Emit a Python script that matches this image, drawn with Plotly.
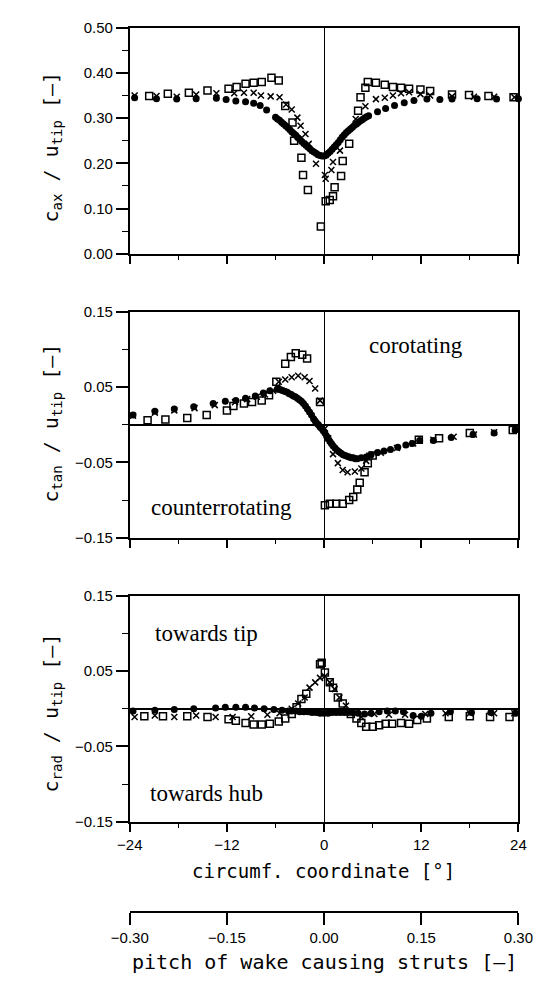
import plotly.graph_objects as go

# ---------------- data ----------------
# Panel 1: c_ax / u_tip
ax_circ_x = [-23.4, -20.7, -18.2, -15.8, -13.3, -12.1, -10.9, -9.7, -8.7, -7.9, -7.1,
             -6.0, -5.75, -5.5, -5.25, -5.0, -4.75, -4.5, -4.25, -4.0, -3.75, -3.5, -3.25,
             -3.0, -2.75, -2.5, -2.25, -2.0, -1.75, -1.5, -1.25, -1.0, -0.75, -0.5, -0.25,
             0.0, 0.25, 0.5, 0.75, 1.0, 1.25, 1.5, 1.75, 2.0, 2.25, 2.5, 2.75, 3.0, 3.25,
             3.5, 3.75, 4.0, 4.25, 4.5, 4.75, 5.0, 5.25, 5.5,
             6.6, 7.6, 8.7, 9.9, 11.1, 12.7, 14.3, 15.8, 18.9, 21.3, 24.0]
ax_circ_y = [0.345, 0.343, 0.342, 0.343, 0.344, 0.341, 0.338, 0.336, 0.333, 0.328, 0.318,
             0.302, 0.298, 0.295, 0.291, 0.287, 0.283, 0.279, 0.275, 0.270, 0.266, 0.262, 0.257,
             0.253, 0.248, 0.244, 0.240, 0.236, 0.232, 0.228, 0.225, 0.222, 0.219, 0.217, 0.216,
             0.216, 0.218, 0.222, 0.226, 0.231, 0.236, 0.241, 0.246, 0.252, 0.258, 0.263, 0.268, 0.272, 0.276,
             0.280, 0.284, 0.287, 0.291, 0.294, 0.297, 0.300, 0.303, 0.305,
             0.314, 0.321, 0.328, 0.334, 0.339, 0.342, 0.341, 0.342, 0.343, 0.342, 0.343]
ax_sq_x = [-21.6, -19.3, -16.7, -14.4, -11.8, -10.8, -9.7, -8.7, -7.7, -6.5, -5.6, -4.8,
           -3.9, -3.7, -2.8, -2.6, -2.0, -0.4, 0.2, 0.7, 1.1, 1.3, 2.1, 2.3, 3.1, 4.2, 4.5,
           5.1, 5.4, 6.4, 7.5, 8.5, 9.5, 10.5, 11.9, 13.1, 15.8, 17.9, 20.3, 23.4]
ax_sq_y = [0.349, 0.354, 0.356, 0.361, 0.365, 0.369, 0.376, 0.378, 0.380, 0.389, 0.383, 0.327,
           0.290, 0.250, 0.212, 0.174, 0.141, 0.060, 0.116, 0.119, 0.127, 0.147, 0.172, 0.205, 0.243, 0.316, 0.346,
           0.367, 0.380, 0.378, 0.374, 0.369, 0.367, 0.365, 0.363, 0.360, 0.352, 0.351, 0.349, 0.346]
ax_x_x = [-23.4, -20.7, -18.2, -15.8, -13.3, -11.1, -9.9, -8.7, -7.8, -6.6, -5.5, -4.7,
          -4.0, -3.3, -2.9, -2.3, -1.9, -1.0, 0.1, 0.2, 0.9, 1.1, 1.96, 3.9, 5.1, 6.4,
          7.5, 8.5, 9.5, 10.5, 11.9, 13.1, 15.8, 18.5, 21.0, 23.5]
ax_x_y = [0.350, 0.349, 0.347, 0.352, 0.355, 0.355, 0.356, 0.356, 0.350, 0.348, 0.346, 0.330,
          0.319, 0.301, 0.283, 0.265, 0.243, 0.199, 0.174, 0.166, 0.185, 0.203, 0.228, 0.298, 0.326, 0.342,
          0.345, 0.350, 0.355, 0.357, 0.353, 0.350, 0.348, 0.347, 0.347, 0.346]

# Panel 2: c_tan / u_tip
tan_circ_x = [-23.6, -20.9, -18.5, -16.1, -13.7, -12.2, -10.9, -9.7, -8.5, -7.5, -6.7,
              -5.8, -5.55, -5.3, -5.05, -4.8, -4.55, -4.3, -4.05, -3.8, -3.55, -3.3, -3.05,
              -2.8, -2.55, -2.3, -2.05, -1.8, -1.55, -1.3, -1.1, -0.9, -0.7, -0.5, -0.3,
              -0.1, 0.1, 0.3, 0.5, 0.7, 0.9, 1.1, 1.35, 1.6, 1.85, 2.1, 2.35, 2.6, 2.85,
              3.1, 3.35, 3.6, 3.85, 4.1, 4.6,
              5.2, 5.8, 6.6, 7.4, 8.2, 9.1, 10.1, 10.9, 11.8, 13.5, 15.7, 18.4, 21.0, 23.6]
tan_circ_y = [0.013, 0.018, 0.021, 0.024, 0.028, 0.031, 0.032, 0.035, 0.038, 0.042, 0.045,
              0.047, 0.047, 0.046, 0.045, 0.044, 0.043, 0.041, 0.040, 0.038, 0.037, 0.035, 0.033,
              0.031, 0.028, 0.025, 0.021, 0.017, 0.013, 0.008, 0.005, 0.002, 0.000, -0.003, -0.005,
              -0.008, -0.011, -0.015, -0.018, -0.022, -0.025, -0.028, -0.031, -0.034, -0.036, -0.038, -0.040, -0.041, -0.042,
              -0.043, -0.044, -0.044, -0.045, -0.045, -0.044,
              -0.043, -0.040, -0.037, -0.035, -0.033, -0.030, -0.027, -0.025, -0.021, -0.021, -0.017, -0.013, -0.011, -0.007]
tan_sq_x = [-21.8, -19.6, -16.9, -14.5, -12.0, -11.2, -9.9, -8.9, -7.7, -6.8, -5.9, -4.8,
            -4.1, -3.5, -2.7, -2.1, -0.5, 0.1, 0.7, 1.5, 2.3, 3.1, 3.6, 4.1, 4.4, 5.0,
            5.4, 6.0, 11.7, 14.2, 18.0, 23.3]
tan_sq_y = [0.006, 0.007, 0.009, 0.013, 0.019, 0.025, 0.028, 0.030, 0.032, 0.039, 0.057, 0.081,
            0.090, 0.095, 0.093, 0.088, 0.030, -0.107, -0.105, -0.105, -0.105, -0.100, -0.096, -0.086, -0.077, -0.063,
            -0.051, -0.041, -0.020, -0.018, -0.011, -0.007]
tan_x_x = [-23.6, -20.9, -18.5, -16.0, -13.5, -11.0, -9.5, -8.3, -7.3, -6.3, -5.6, -4.8,
           -4.0, -3.2, -2.4, -1.8, -1.1, -0.5, 0.1, 0.5, 1.1, 1.7, 2.3, 2.9, 3.8, 4.6,
           5.2, 5.6, 7.0, 9.0, 11.0, 13.5, 16.0, 18.5, 21.0, 23.6]
tan_x_y = [0.012, 0.016, 0.019, 0.022, 0.026, 0.030, 0.034, 0.037, 0.040, 0.045, 0.057, 0.060,
           0.063, 0.065, 0.063, 0.058, 0.048, 0.032, -0.005, -0.018, -0.039, -0.051, -0.060, -0.063, -0.062, -0.058,
           -0.048, -0.041, -0.037, -0.031, -0.025, -0.020, -0.016, -0.013, -0.010, -0.006]

# Panel 3: c_rad / u_tip
rad_circ_x = [-23.6, -20.9, -18.5, -16.1, -13.4, -12.2, -10.9, -9.7, -8.6, -7.4, -6.2, -5.2,
              -4.4, -4.0, -3.5, -3.0, -2.5, -2.0, -1.5, -1.0, -0.5, 0.0, 0.5, 1.0, 1.5, 2.0,
              2.5, 3.0, 3.5, 4.2, 5.0, 5.8, 6.8, 7.8, 8.8, 9.8, 11.0, 12.0, 13.2, 15.6,
              18.2, 20.6, 23.6]
rad_circ_y = [-0.003, -0.002, -0.001, 0.000, 0.001, 0.002, 0.002, 0.002, 0.001, 0.000, -0.001, -0.002,
              -0.003, -0.003, -0.003, -0.004, -0.004, -0.004, -0.005, -0.005, -0.006, -0.006, -0.006, -0.005, -0.005, -0.005,
              -0.005, -0.005, -0.005, -0.006, -0.007, -0.006, -0.004, -0.003, -0.003, -0.004, -0.009, -0.010, -0.006, -0.004,
              -0.005, -0.005, -0.006]
rad_sq_x = [-22.2, -19.9, -16.9, -14.4, -11.8, -10.9, -9.7, -8.7, -7.7, -6.7, -5.6, -4.8,
            -4.0, -3.4, -2.8, -2.2, -0.5, -0.3, 0.1, 0.7, 1.1, 1.7, 2.3, 3.3, 4.0, 4.6,
            5.2, 6.0, 6.8, 7.6, 8.4, 9.5, 10.5, 11.5, 12.7, 15.4, 18.0, 20.5, 22.9]
rad_sq_y = [-0.010, -0.010, -0.010, -0.011, -0.014, -0.016, -0.019, -0.021, -0.021, -0.020, -0.017, -0.013,
            -0.007, 0.002, 0.013, 0.020, 0.059, 0.061, 0.048, 0.035, 0.028, 0.015, 0.007, -0.007, -0.013, -0.019,
            -0.024, -0.024, -0.022, -0.020, -0.020, -0.019, -0.020, -0.015, -0.013, -0.011, -0.010, -0.011, -0.011]
rad_x_x = [-23.4, -20.9, -18.5, -15.8, -13.4, -11.3, -9.0, -7.0, -5.5, -4.0, -3.2, -2.4,
           -1.8, -1.1, -0.5, 0.1, 0.7, 1.3, 1.9, 2.7, 3.6, 4.6, 6.2, 8.0, 10.0, 12.5,
           15.0, 18.0, 21.0, 23.5]
rad_x_y = [-0.011, -0.009, -0.011, -0.009, -0.011, -0.011, -0.010, -0.008, -0.006, 0.000, 0.007, 0.015,
           0.028, 0.035, 0.041, 0.043, 0.035, 0.026, 0.015, 0.004, -0.004, -0.011, -0.007, -0.008, -0.008, -0.007,
           -0.006, -0.006, -0.006, -0.006]

x_ticks = [-24, -12, 0, 12, 24]
x_minor = [-18, -6, 6, 18]
pitch_ticks = [-0.30, -0.15, 0.00, 0.15, 0.30]
ax_ticks = [0.0, 0.1, 0.2, 0.3, 0.4, 0.5]
ax_minor = [0.05, 0.15, 0.25, 0.35, 0.45]
tr_ticks = [-0.15, -0.05, 0.05, 0.15]
tr_minor = [-0.10, 0.0, 0.10]

# ---------------- figure ----------------
W, H = 555, 987
MONO = "DejaVu Sans Mono"
SANS = "Liberation Sans"
SERIF = "Liberation Serif"

fig = go.Figure()

def add_series(xs, ys, xa, ya, kind):
    if kind == "circ":
        marker = dict(symbol="circle", size=7, color="black", line=dict(width=0))
    elif kind == "sq":
        marker = dict(symbol="square-open", size=7, color="black", line=dict(width=1.5, color="black"))
    else:
        marker = dict(symbol="x-thin-open", size=6, color="black", line=dict(width=1.5, color="black"))
    fig.add_trace(go.Scatter(x=xs, y=ys, mode="markers", marker=marker, xaxis=xa, yaxis=ya,
                             showlegend=False, cliponaxis=False, hoverinfo="skip"))

add_series(ax_circ_x, ax_circ_y, "x", "y", "circ")
add_series(ax_sq_x, ax_sq_y, "x", "y", "sq")
add_series(ax_x_x, ax_x_y, "x", "y", "x")
add_series(tan_circ_x, tan_circ_y, "x2", "y2", "circ")
add_series(tan_sq_x, tan_sq_y, "x2", "y2", "sq")
add_series(tan_x_x, tan_x_y, "x2", "y2", "x")
add_series(rad_circ_x, rad_circ_y, "x3", "y3", "circ")
add_series(rad_sq_x, rad_sq_y, "x3", "y3", "sq")
add_series(rad_x_x, rad_x_y, "x3", "y3", "x")
# carrier for the secondary (pitch) axis
fig.add_trace(go.Scatter(x=[pitch_ticks[0], pitch_ticks[-1]], y=[0.5, 0.5], mode="markers",
                         marker=dict(opacity=0), xaxis="x4", yaxis="y4", showlegend=False,
                         hoverinfo="skip"))

x_dom = [118 / W, 532 / W]

def ydom(top_px, bot_px):
    return [1 - bot_px / H, 1 - top_px / H]

tickfont = dict(family=SANS, size=15, color="black")

def fmt(v, nd):
    return f"{v:.{nd}f}".replace("-", "\u2212")

def xaxis_cfg(anchor, labels):
    return dict(domain=x_dom, anchor=anchor, range=[-24, 24], autorange=False,
                tickvals=x_ticks, ticktext=[fmt(v, 0) for v in x_ticks],
                showticklabels=labels, ticks="outside", ticklen=8, tickwidth=1.5,
                tickcolor="black", tickfont=tickfont,
                minor=dict(tickvals=x_minor, ticks="outside", ticklen=4, tickwidth=1.2,
                           tickcolor="black"),
                showline=True, linecolor="black", linewidth=1.8, mirror=True,
                showgrid=False, zeroline=True, zerolinecolor="black", zerolinewidth=1.3,
                fixedrange=True)

def yaxis_cfg(anchor, dom, rng, ticks, minor, zl):
    return dict(domain=dom, anchor=anchor, range=rng, autorange=False,
                tickvals=ticks, ticktext=[fmt(v, 2) for v in ticks],
                ticks="outside", ticklen=12, tickwidth=1.5, tickcolor="black",
                tickfont=tickfont,
                minor=dict(tickvals=minor, ticks="outside", ticklen=6, tickwidth=1.2,
                           tickcolor="black"),
                showline=True, linecolor="black", linewidth=1.8, mirror=True,
                showgrid=False, zeroline=zl, zerolinecolor="black", zerolinewidth=1.5,
                fixedrange=True)

fig.update_layout(
    width=W, height=H,
    margin=dict(l=0, r=0, t=0, b=0),
    paper_bgcolor="white", plot_bgcolor="white",
    xaxis=xaxis_cfg("y", False),
    xaxis2=xaxis_cfg("y2", False),
    xaxis3=xaxis_cfg("y3", True),
    yaxis=yaxis_cfg("x", ydom(19, 249), [0, 0.5], ax_ticks, ax_minor, False),
    yaxis2=yaxis_cfg("x2", ydom(308, 538), [-0.15, 0.15], tr_ticks, tr_minor, True),
    yaxis3=yaxis_cfg("x3", ydom(597, 827), [-0.15, 0.15], tr_ticks, tr_minor, True),
    xaxis4=dict(domain=x_dom, anchor="y4", range=[-0.3, 0.3], autorange=False,
                tickvals=pitch_ticks, ticktext=[fmt(v, 2) for v in pitch_ticks],
                ticks="outside", ticklen=12, tickwidth=1.5, tickcolor="black",
                tickfont=tickfont,
                showline=True, linecolor="black", linewidth=1.8, mirror=False,
                showgrid=False, zeroline=False, fixedrange=True),
    yaxis4=dict(domain=ydom(912, 918), anchor="x4", range=[0, 1], visible=False,
                fixedrange=True),
)

ann = []
# y-axis titles
ytitles = [
    ("c<sub>ax</sub>\u00a0/\u00a0u<sub>tip</sub>\u00a0[\u2013]", 140),
    ("c<sub>tan</sub>\u00a0/\u00a0u<sub>tip</sub>\u00a0[\u2013]", 421),
    ("c<sub>rad</sub>\u00a0/\u00a0u<sub>tip</sub>\u00a0[\u2013]", 716),
]
for txt, ypx in ytitles:
    ann.append(dict(text=txt, xref="paper", yref="paper", x=35 / W, y=1 - ypx / H,
                    xanchor="center", yanchor="middle", textangle=-90, showarrow=False,
                    font=dict(family=MONO, size=20, color="black")))
# x-axis titles
ann.append(dict(text="circumf. coordinate [\u00b0]", xref="paper", yref="paper",
                x=324 / W, y=1 - 877 / H, xanchor="center", yanchor="middle",
                showarrow=False, font=dict(family=MONO, size=19, color="black")))
ann.append(dict(text="pitch of wake causing struts [\u2013]", xref="paper", yref="paper",
                x=325 / W, y=1 - 970 / H, xanchor="center", yanchor="middle",
                showarrow=False, font=dict(family=MONO, size=20, color="black")))
# region labels
serif = dict(family=SERIF, size=23, color="black")
ann.append(dict(text="corotating", xref="x2", yref="y2", x=11.4, y=0.105,
                xanchor="center", yanchor="middle", showarrow=False, font=serif))
ann.append(dict(text="counterrotating", xref="x2", yref="y2", x=-12.7, y=-0.110,
                xanchor="center", yanchor="middle", showarrow=False, font=serif))
ann.append(dict(text="towards tip", xref="x3", yref="y3", x=-14.5, y=0.100,
                xanchor="center", yanchor="middle", showarrow=False, font=serif))
ann.append(dict(text="towards hub", xref="x3", yref="y3", x=-14.5, y=-0.112,
                xanchor="center", yanchor="middle", showarrow=False, font=serif))
fig.update_layout(annotations=ann)

fig.write_html("out.html")
